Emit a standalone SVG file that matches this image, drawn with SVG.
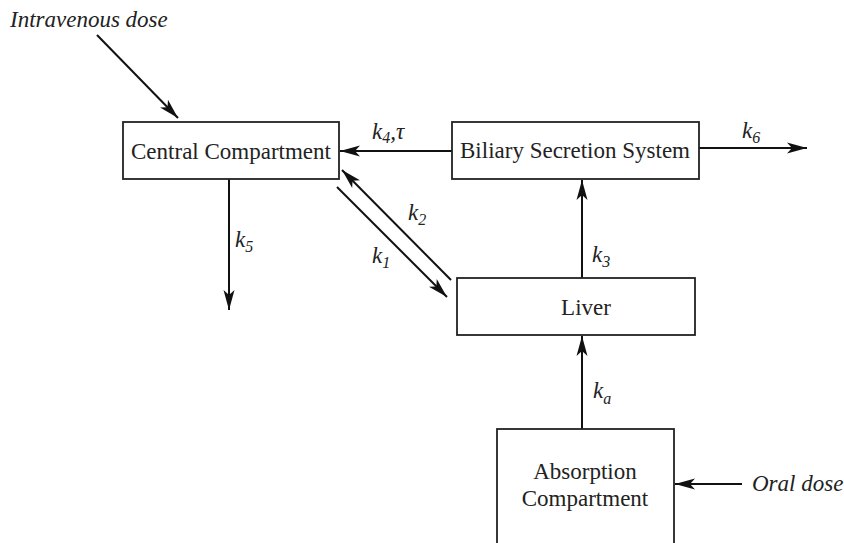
<svg xmlns="http://www.w3.org/2000/svg" width="844" height="543" viewBox="0 0 844 543">
<style>
.box{fill:#fff;stroke:#222;stroke-width:1.8}
.lbl{font-family:'Liberation Serif',Tinos,'Times New Roman',Times,serif;font-size:23px;fill:#222;text-anchor:middle}
.it{font-family:'Liberation Serif',Tinos,'Times New Roman',Times,serif;font-size:23px;font-style:italic;fill:#222}
.sub{font-size:16px}
.ln{stroke:#111;stroke-width:2;fill:none;marker-end:url(#ah)}
</style>
<defs>
<marker id="ah" markerUnits="userSpaceOnUse" markerWidth="24" markerHeight="14" viewBox="-21 -7 22 14" refX="0" refY="0" orient="auto">
<path d="M0,0 L-20,-5.5 L-15,0 L-20,5.5 Z" fill="#111"/>
</marker>
</defs>
<rect width="844" height="543" fill="#fff"/>
<g id="connectors">
<line class="ln" x1="97" y1="35" x2="178" y2="118"/>
<line class="ln" x1="452" y1="151" x2="340" y2="151"/>
<line class="ln" x1="699" y1="148" x2="807" y2="148"/>
<line class="ln" x1="229" y1="179" x2="229" y2="310"/>
<line class="ln" x1="451" y1="280" x2="342" y2="170"/>
<line class="ln" x1="337" y1="187" x2="447" y2="297"/>
<line class="ln" x1="582" y1="278" x2="582" y2="180"/>
<line class="ln" x1="582" y1="429" x2="582" y2="336"/>
<line class="ln" x1="742" y1="484" x2="675" y2="484"/>
<text class="it" x="372" y="139">k<tspan class="sub" dy="4">4</tspan><tspan dy="-4">,τ</tspan></text>
<text class="it" x="742" y="138">k<tspan class="sub" dy="5">6</tspan></text>
<text class="it" x="408" y="220">k<tspan class="sub" dy="5">2</tspan></text>
<text class="it" x="372" y="263">k<tspan class="sub" dy="5">1</tspan></text>
<text class="it" x="235" y="247">k<tspan class="sub" dy="5">5</tspan></text>
<text class="it" x="592" y="262">k<tspan class="sub" dy="5">3</tspan></text>
<text class="it" x="593" y="398">k<tspan class="sub" dy="6">a</tspan></text>
</g>
<g id="iv"><text class="it" x="10" y="27">Intravenous dose</text></g>
<g id="oral"><text class="it" x="752" y="491">Oral dose</text></g>
<g id="central">
<rect class="box" x="123" y="122" width="216" height="57"/>
<text class="lbl" x="231" y="159">Central Compartment</text>
</g>
<g id="biliary">
<rect class="box" x="452" y="122" width="247" height="57"/>
<text class="lbl" x="575" y="158">Biliary Secretion System</text>
</g>
<g id="liver">
<rect class="box" x="457" y="278" width="238" height="57"/>
<text class="lbl" x="586" y="315">Liver</text>
</g>
<g id="absorption">
<rect class="box" x="497" y="429" width="177" height="130"/>
<text class="lbl" x="585" y="479">Absorption</text>
<text class="lbl" x="585" y="506">Compartment</text>
</g>
</svg>
